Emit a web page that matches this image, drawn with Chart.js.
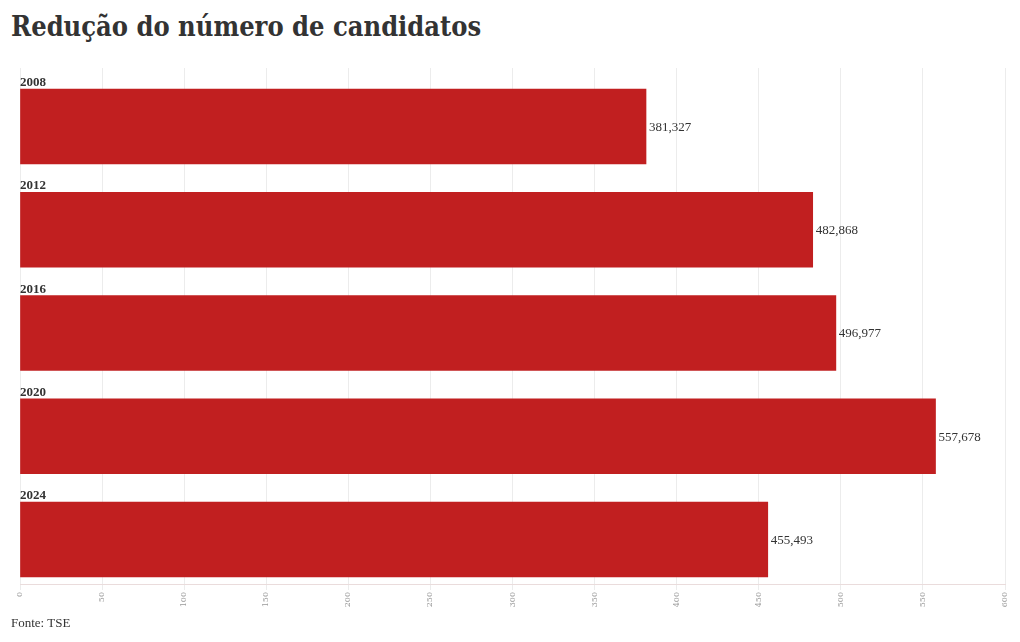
<!DOCTYPE html>
<html>
<head>
<meta charset="utf-8">
<script src="https://cdn.jsdelivr.net/npm/chart.js@4/dist/chart.umd.min.js"></script>
<style>
  body { margin: 0; background: #fff; }
  #wrap { position: relative; width: 1020px; height: 642px; }
  #title { position: absolute; left: 11px; top: 11px; margin: 0; font: bold 27px "DejaVu Serif", serif; font-stretch: condensed; color: #333; white-space: nowrap; }
  #source { position: absolute; left: 11px; top: 615px; font: 13px "Liberation Serif", serif; color: #333; }
  canvas { position: absolute; left: 0; top: 0; }
</style>
</head>
<body>
<div id="wrap">
  <h1 id="title">Redução do número de candidatos</h1>
  <canvas id="chart" width="1020" height="642"></canvas>
  <div id="source">Fonte: TSE</div>
</div>
<script>
// data
var years = ['2008', '2012', '2016', '2020', '2024'];
var candidates = [381327, 482868, 496977, 557678, 455493];
var xTicksMax = 600000;
var xTicksStep = 50000;

var barColor = '#c11f20';
var textColor = '#333333';

// year labels above bars + value labels at the end of bars
var barLabels = {
    id: 'barLabels',
    afterDatasetsDraw: function (chart) {
        var ctx = chart.ctx;
        var meta = chart.getDatasetMeta(0);
        ctx.save();
        meta.data.forEach(function (bar, i) {
            ctx.fillStyle = textColor;
            ctx.textAlign = 'left';
            ctx.font = 'bold 13px "Liberation Serif", serif';
            ctx.textBaseline = 'alphabetic';
            ctx.fillText(years[i], chart.chartArea.left, bar.y - bar.height / 2 - 3);
            ctx.font = '13px "Liberation Serif", serif';
            ctx.textBaseline = 'middle';
            ctx.fillText(candidates[i].toLocaleString('en-US'), bar.x + 3, bar.y + 1);
        });
        ctx.restore();
    }
};

var canvas = document.getElementById('chart');
var ctx = canvas.getContext('2d');
window.chartInstance = new Chart(ctx, {
    type: 'bar',
    data: {
        datasets: [{
            data: candidates.map(function (v, i) { return { x: v, y: i }; }),
            backgroundColor: barColor,
            borderWidth: 0,
            barThickness: 75
        }]
    },
    options: {
        indexAxis: 'y',
        responsive: false,
        animation: false,
        layout: { padding: { top: 68, left: 20, right: 15, bottom: 34 } },
        plugins: {
            legend: { display: false },
            tooltip: { enabled: false },
            title: { display: false }
        },
        scales: {
            x: {
                type: 'linear',
                min: 0,
                max: xTicksMax,
                afterFit: function (scale) { scale.height = 24; },
                grid: { color: '#ececec', tickLength: 6 },
                border: { color: '#eadcdc' },
                ticks: {
                    stepSize: xTicksStep,
                    minRotation: 90,
                    maxRotation: 90,
                    padding: 2,
                    color: '#999999',
                    font: { size: 8, family: '"DejaVu Serif", serif' },
                    callback: function (v) { return v / 1000; }
                }
            },
            y: {
                type: 'linear',
                reverse: true,
                offset: false,
                min: -0.567,
                max: 4.431,
                display: false
            }
        }
    },
    plugins: [barLabels]
});
</script>
</body>
</html>
